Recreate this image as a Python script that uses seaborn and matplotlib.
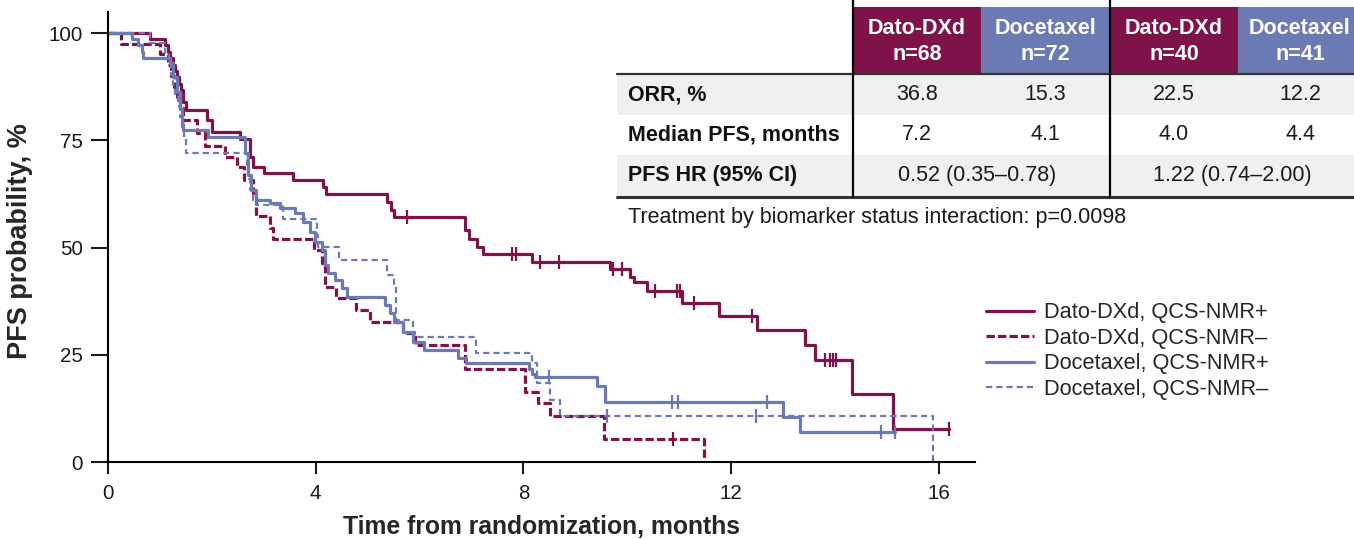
import matplotlib.pyplot as plt
import numpy as np
import pandas as pd
import seaborn as sns
from matplotlib.lines import Line2D
from matplotlib.patches import Rectangle

sns.set_style('ticks')
plt.rcParams['font.family'] = ['Liberation Sans', 'DejaVu Sans']

MAROON = '#7E1349'
BLUE = '#6C7AB4'
GREY_ROW = '#F0F0F0'

# Kaplan-Meier steps (months, PFS %)
dato_pos_t = [0, 0.81, 1.10, 1.15, 1.20, 1.25, 1.29, 1.33, 1.37, 1.41, 1.45, 1.50,
              1.90, 2.00, 2.54, 2.74, 2.80, 3.00, 3.57, 4.15, 4.20,
              5.37, 5.45, 5.50, 6.88, 6.95, 7.10, 7.23, 8.16,
              9.66, 10.06, 10.13, 10.38, 11.05, 11.76, 12.50, 13.42, 13.62, 14.33, 15.12, 16.20]
dato_pos_s = [100, 98.5, 97.1, 95.6, 94.1, 92.6, 91.2, 89.7, 88.2, 86.8, 84.0, 82.0,
              79.7, 77.0, 75.4, 71.2, 68.8, 67.3, 65.7, 64.2, 62.4,
              60.7, 58.7, 57.2, 54.1, 52.1, 50.2, 48.5, 46.7,
              45.1, 43.2, 42.0, 39.8, 37.1, 34.0, 30.8, 27.3, 23.8, 15.8, 7.6, 7.6]
dato_pos_cens = [5.75, 7.78, 7.86, 8.32, 8.68, 9.72, 9.90, 10.54, 10.96, 11.02, 11.28,
                 12.40, 13.82, 13.91, 13.96, 14.03, 16.20]

dato_neg_t = [0, 0.25, 1.00, 1.15, 1.22, 1.28, 1.33, 1.38, 1.45,
              1.71, 1.87, 2.25, 2.48, 2.61, 2.80, 2.86,
              3.12, 3.18, 3.96, 4.12, 4.18, 4.40, 4.78, 5.05,
              5.69, 5.92, 6.88, 8.03, 8.29, 8.52, 9.56, 11.48]
dato_neg_s = [100, 97.5, 95.0, 92.5, 90.0, 87.5, 85.0, 82.5, 79.7,
              76.6, 73.7, 71.2, 68.8, 65.7, 62.7, 57.4,
              54.5, 51.9, 49.4, 46.3, 40.9, 38.2, 35.4, 32.6,
              30.0, 27.3, 21.7, 16.4, 13.7, 10.7, 5.3, 0]
dato_neg_cens = [10.88]

doc_pos_t = [0, 0.46, 0.58, 0.65, 0.68,
             1.19, 1.26, 1.32, 1.39, 1.42, 1.45, 1.92,
             2.64, 2.70, 2.76, 2.85, 3.12, 3.31, 3.60, 3.76, 3.89, 3.99,
             4.12, 4.18, 4.24, 4.37, 4.50, 4.60,
             5.34, 5.43, 5.50, 5.69, 5.88, 6.08, 6.75, 6.90,
             8.10, 8.16, 8.22, 9.42, 9.58, 13.01, 13.32, 15.15]
doc_pos_s = [100, 98.6, 97.2, 95.6, 94.1,
             92.9, 89.8, 86.3, 82.4, 78.9, 77.4, 75.8,
             72.0, 67.0, 63.5, 61.1, 60.3, 59.1, 58.0, 56.0, 53.7, 51.4,
             49.4, 45.9, 44.0, 42.4, 40.5, 38.5,
             36.6, 34.7, 32.7, 30.4, 28.0, 26.1, 24.2, 23.0,
             21.6, 20.6, 19.9, 17.6, 14.0, 10.6, 7.1, 7.1]
doc_pos_cens = [8.50, 10.86, 10.98, 12.69, 14.89, 15.15]

doc_neg_t = [0, 0.80, 1.10, 1.18, 1.22, 1.26, 1.30, 1.34, 1.38, 1.42, 1.46, 1.50,
             2.67, 2.70, 2.74, 2.80, 2.86, 3.38,
             4.02, 4.05, 4.44, 5.37, 5.50, 5.55,
             5.88, 5.92, 7.08, 8.16, 8.26, 8.52, 8.71, 15.90]
doc_neg_s = [100, 97.6, 95.1, 92.7, 90.2, 87.8, 85.4, 82.9, 80.5, 78.0, 75.6, 72.0,
             68.5, 66.0, 63.4, 61.0, 59.8, 56.6,
             52.9, 50.2, 47.1, 43.6, 41.0, 33.1,
             30.4, 29.2, 25.3, 23.0, 18.3, 14.5, 10.7, 0]
doc_neg_cens = [9.61, 12.49]

series_labels = ['Dato-DXd, QCS-NMR+', 'Dato-DXd, QCS-NMR–',
                 'Docetaxel, QCS-NMR+', 'Docetaxel, QCS-NMR–']

# table contents
hdr_drugs = ['Dato-DXd', 'Docetaxel', 'Dato-DXd', 'Docetaxel']
hdr_n = ['n=68', 'n=72', 'n=40', 'n=41']
row_labels = ['ORR, %', 'Median PFS, months', 'PFS HR (95% CI)']
orr = ['36.8', '15.3', '22.5', '12.2']
median_pfs = ['7.2', '4.1', '4.0', '4.4']
hr_ci = ['0.52 (0.35–0.78)', '1.22 (0.74–2.00)']
footnote = 'Treatment by biomarker status interaction: p=0.0098'

W, H = 1354, 539
fig = plt.figure(figsize=(W / 100, H / 100), dpi=100)
ax = fig.add_axes([108 / W, 1 - 462 / H, (975 - 108) / W, (462 - 12) / H])

curves = [
    (dato_pos_t, dato_pos_s, dato_pos_cens, MAROON, '-', 2.3),
    (dato_neg_t, dato_neg_s, dato_neg_cens, MAROON, (0, (2.6, 1.0)), 2.3),
    (doc_pos_t, doc_pos_s, doc_pos_cens, BLUE, '-', 2.3),
    (doc_neg_t, doc_neg_s, doc_neg_cens, BLUE, (0, (2.8, 1.8)), 1.6),
]

handles = []
for (t, s, cens, color, ls, lw), label in zip(curves, series_labels):
    df = pd.DataFrame({'time': t, 'surv': s})
    sns.lineplot(data=df, x='time', y='surv', ax=ax, color=color, linestyle=ls,
                 linewidth=lw, drawstyle='steps-post', sort=False, legend=False)
    # censor marks sit on the step curve
    t_arr = np.asarray(t)
    s_arr = np.asarray(s)
    idx = np.searchsorted(t_arr, cens, side='right') - 1
    cdf = pd.DataFrame({'time': cens, 'surv': s_arr[idx]})
    sns.scatterplot(data=cdf, x='time', y='surv', ax=ax, marker='|', color=color,
                    s=110, linewidth=1.6, legend=False, zorder=3)
    handles.append(Line2D([], [], color=color, linestyle=ls, linewidth=lw))

ax.set_xlim(0, 16.7)
ax.set_ylim(0, 104.9)
ax.set_xticks([0, 4, 8, 12, 16])
ax.set_yticks([0, 25, 50, 75, 100])
sns.despine(ax=ax)
for side in ['left', 'bottom']:
    ax.spines[side].set_linewidth(1.5)
    ax.spines[side].set_color('black')
ax.tick_params(axis='x', length=8.5, width=1.5, pad=7, labelsize=14.8, colors='#1a1a1a')
ax.tick_params(axis='y', length=12, width=1.5, pad=6, labelsize=14.8, colors='#1a1a1a')
ax.set_xlabel('Time from randomization, months', fontsize=17.8, fontweight='bold')
ax.set_ylabel('PFS probability, %', fontsize=19.5, fontweight='bold')
ax.xaxis.set_label_coords(0.5, -0.118)
ax.yaxis.set_label_coords(-0.086, 0.49)

ax.legend(handles, series_labels, loc='center left',
          bbox_to_anchor=(986 / W, 1 - 351 / H), bbox_transform=fig.transFigure,
          frameon=False, fontsize=15.7, handlelength=2.2, handletextpad=0.45,
          labelspacing=0.2, borderpad=0, borderaxespad=0)

# summary table drawn in pixel units on an overlay
tab = fig.add_axes([0, 0, 1, 1])
tab.set_xlim(0, W)
tab.set_ylim(H, 0)
tab.axis('off')

col_edges = [853, 981, 1110, 1238, 1362]
col_centers = [(a + b) / 2 for a, b in zip(col_edges[:-1], col_edges[1:])]
hdr_colors = [MAROON, BLUE, MAROON, BLUE]
row_bounds = [(74, 115), (115, 155), (155, 196)]

for i in range(4):
    tab.add_patch(Rectangle((col_edges[i], 7), col_edges[i + 1] - col_edges[i], 66,
                            color=hdr_colors[i], lw=0))
    tab.text(col_centers[i], 29, hdr_drugs[i], ha='center', va='center',
             color='white', fontsize=15.5, fontweight='bold')
    tab.text(col_centers[i], 55, hdr_n[i], ha='center', va='center',
             color='white', fontsize=15.5, fontweight='bold')

for k, (y0, y1) in enumerate(row_bounds):
    if k != 1:
        tab.add_patch(Rectangle((617, y0), W - 617, y1 - y0, color=GREY_ROW, lw=0))
    tab.text(628, (y0 + y1) / 2, row_labels[k], ha='left', va='center',
             fontsize=15.5, fontweight='bold', color='#111111')

for i in range(4):
    tab.text(col_centers[i], 95, orr[i], ha='center', va='center', fontsize=15.5, color='#1a1a1a')
    tab.text(col_centers[i], 135, median_pfs[i], ha='center', va='center', fontsize=15.5, color='#1a1a1a')
for j in range(2):
    cx = (col_edges[2 * j] + col_edges[2 * j + 2]) / 2
    tab.text(cx - 4, 176, hr_ci[j], ha='center', va='center', fontsize=15.5, color='#1a1a1a')

tab.plot([617, W], [73.5, 73.5], color='#333333', lw=1.6)
tab.plot([617, W], [197, 197], color='#333333', lw=2.2)
for xv in [col_edges[0], col_edges[2]]:
    tab.plot([xv, xv], [0, 197], color='black', lw=1.6)
tab.text(628, 217, footnote, ha='left', va='center', fontsize=15.5, color='#1a1a1a')

fig.savefig('out.png', dpi=100)
